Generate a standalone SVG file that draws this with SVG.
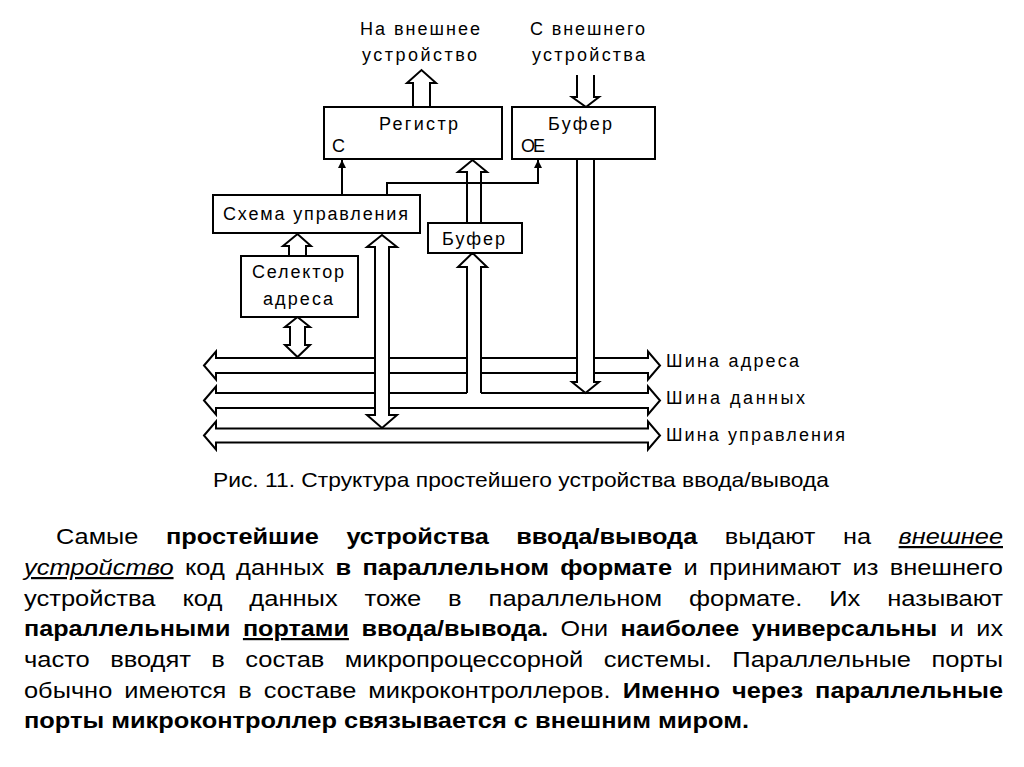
<svg xmlns="http://www.w3.org/2000/svg" width="1024" height="767" viewBox="0 0 1024 767">
<style>
.box{fill:#fff;stroke:#000;stroke-width:2}
.ln{fill:none;stroke:#000;stroke-width:2}
.ha{fill:#fff;stroke:#000;stroke-width:2;stroke-linejoin:miter}
.wf{fill:#fff;stroke:none}
.lbl{font-family:"Liberation Sans",Arial,sans-serif;font-size:18px;fill:#000}
.cap{font-family:"Liberation Sans",Arial,sans-serif;font-size:21px;fill:#000}
.p{font-family:"Liberation Sans",Arial,sans-serif;font-size:22px;fill:#000}
.b{font-weight:bold}
.iu{font-style:italic;text-decoration:underline}
.u{text-decoration:underline}
</style>
<defs>
<marker id="ah" viewBox="0 0 8 10" refX="8" refY="5" markerWidth="8" markerHeight="10" markerUnits="userSpaceOnUse" orient="auto">
<path d="M0,1 L8,5 L0,9 Z" fill="#000"/>
</marker>
</defs>
<rect width="1024" height="767" fill="#fff"/>

<g id="buses">
<polygon class="ha" points="204,365.5 216,351.5 216,358 648,358 648,351.5 660,365.5 648,379.5 648,373 216,373 216,379.5"/>
<polygon class="ha" points="204,400.5 216,386.5 216,393 648,393 648,386.5 660,400.5 648,414.5 648,408 216,408 216,414.5"/>
<polygon class="ha" points="204,435.5 216,421.5 216,428.5 648,428.5 648,421.5 660,435.5 648,449.5 648,442.5 216,442.5 216,449.5"/>
<text class="lbl" x="666" y="367" textLength="133" lengthAdjust="spacing">Шина адреса</text>
<text class="lbl" x="666" y="404" textLength="139" lengthAdjust="spacing">Шина данных</text>
<text class="lbl" x="666" y="441" textLength="179" lengthAdjust="spacing">Шина управления</text>
</g>

<g id="connectors">
<!-- Register output to external device -->
<polygon class="ha" points="413,107 413,83 407,83 421.5,70 436,83 430,83 430,107"/>
<!-- From external device into top buffer -->
<polyline class="ln" points="577,75 577,97 572,97 586,107 599,97 594,97 594,75"/>
<!-- Top buffer down to data bus -->
<polygon class="wf" points="577,159 577,382 572,382 585.5,393 599,382 594,382 594,159"/>
<polyline class="ln" points="577,159 577,382 572,382 585.5,393 599,382 594,382 594,159"/>
<!-- Data bus up to small buffer -->
<polygon class="wf" points="467,394 467,267 458,267 472.5,253 487,267 481,267 481,394"/>
<polyline class="ln" points="467,393 467,267 458,267 472.5,253 487,267 481,267 481,393"/>
<!-- Small buffer up to Register -->
<polygon class="ha" points="467,223 467,172 458,172 472.5,160 487,172 481,172 481,223"/>
<!-- Control scheme <-> control bus -->
<polygon class="ha" points="382,235 397,247 389,247 389,415 397,415 382,428 367,415 375,415 375,247 367,247"/>
<!-- Selector -> control scheme -->
<polygon class="ha" points="289,256 289,246 283,246 297.5,234 311,246 306,246 306,256"/>
<!-- Selector <-> address bus -->
<polygon class="ha" points="297.5,317 310,327 305,327 305,345 310,345 297.5,357 285,345 290,345 290,327 285,327"/>
<!-- C strobe -->
<line class="ln" x1="342" y1="195" x2="342" y2="160" marker-end="url(#ah)"/>
<!-- OE strobe -->
<polyline class="ln" points="387,195 387,183 538,183 538,160" marker-end="url(#ah)"/>
</g>

<g id="n_register">
<rect class="box" x="324" y="107" width="178" height="52"/>
<text class="lbl" x="379" y="130" textLength="79" lengthAdjust="spacing">Регистр</text>
<text class="lbl" x="332" y="152">С</text>
</g>

<g id="n_buffer_top">
<rect class="box" x="512" y="107" width="143" height="52"/>
<text class="lbl" x="548" y="130" textLength="64" lengthAdjust="spacing">Буфер</text>
<text class="lbl" x="521" y="152" textLength="24" lengthAdjust="spacing">ОЕ</text>
</g>

<g id="n_control">
<rect class="box" x="213" y="195" width="207" height="38"/>
<text class="lbl" x="223" y="220" textLength="185" lengthAdjust="spacing">Схема управления</text>
</g>

<g id="n_buffer_small">
<rect class="box" x="428" y="223" width="94" height="30"/>
<text class="lbl" x="442" y="245" textLength="63" lengthAdjust="spacing">Буфер</text>
</g>

<g id="n_selector">
<rect class="box" x="241" y="256" width="117" height="61"/>
<text class="lbl" x="252" y="278" textLength="92" lengthAdjust="spacing">Селектор</text>
<text class="lbl" x="263" y="305" textLength="70" lengthAdjust="spacing">адреса</text>
</g>

<g id="ext_labels">
<text class="lbl" x="360" y="35" textLength="120" lengthAdjust="spacing">На внешнее</text>
<text class="lbl" x="362" y="61" textLength="115" lengthAdjust="spacing">устройство</text>
<text class="lbl" x="530" y="35" textLength="115" lengthAdjust="spacing">С внешнего</text>
<text class="lbl" x="532" y="61" textLength="113" lengthAdjust="spacing">устройства</text>
</g>

<g id="caption">
<text class="cap" x="213" y="487" textLength="616" lengthAdjust="spacingAndGlyphs">Рис. 11. Структура простейшего устройства ввода/вывода</text>
</g>

<g id="paragraph">
<text class="p" x="56" y="544" textLength="947" lengthAdjust="spacingAndGlyphs" word-spacing="17.8">Самые <tspan class="b">простейшие устройства ввода/вывода</tspan> выдают на <tspan class="iu">внешнее</tspan></text>
<text class="p" x="24" y="575" textLength="979" lengthAdjust="spacingAndGlyphs" word-spacing="3.7"><tspan class="iu">устройство</tspan> код данных <tspan class="b">в параллельном формате</tspan> и принимают из внешнего</text>
<text class="p" x="24" y="606" textLength="979" lengthAdjust="spacingAndGlyphs" word-spacing="17.1">устройства код данных тоже в параллельном формате. Их называют</text>
<text class="p" x="24" y="636" textLength="979" lengthAdjust="spacingAndGlyphs" word-spacing="4.8"><tspan class="b">параллельными </tspan><tspan class="b u">портами</tspan><tspan class="b"> ввода/вывода.</tspan> Они <tspan class="b">наиболее универсальны</tspan> и их</text>
<text class="p" x="24" y="667" textLength="979" lengthAdjust="spacingAndGlyphs" word-spacing="11.5">часто вводят в состав микропроцессорной системы. Параллельные порты</text>
<text class="p" x="24" y="698" textLength="979" lengthAdjust="spacingAndGlyphs" word-spacing="4.3">обычно имеются в составе микроконтроллеров. <tspan class="b">Именно через параллельные</tspan></text>
<text class="p b" x="24" y="728" textLength="725" lengthAdjust="spacingAndGlyphs">порты микроконтроллер связывается с внешним миром.</text>
</g>
</svg>
